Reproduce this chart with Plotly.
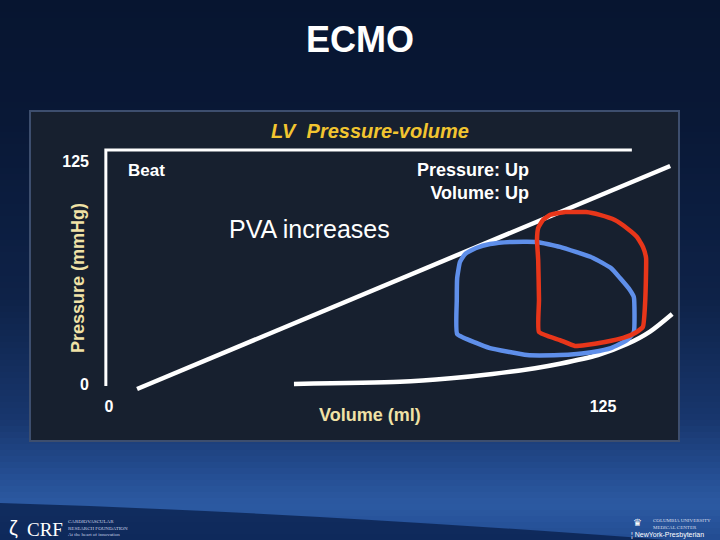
import plotly.graph_objects as go

# ---------------- data (volume in ml, pressure in mmHg) ----------------
x_tick_vals = [0, 125]
y_tick_vals = [0, 125]

espvr_volume = [7.1, 142.0]
espvr_pressure = [-2.8, 122.6]

edpvr_volume = [46.8, 73.6, 86.5, 97.0, 107.8, 114.1, 123.7, 131.1, 136.9, 142.5]
edpvr_pressure = [0.0, 1.2, 3.2, 5.6, 8.9, 11.4, 16.3, 22.5, 29.5, 39.4]

baseline_volume = [88.1, 88.0, 88.1, 88.8, 90.1, 92.9, 96.4, 101.5, 108.3, 114.1,
                   122.5, 127.0, 129.3, 131.8, 132.8, 132.8, 131.1, 127.0, 122.5,
                   118.4, 114.1, 105.8, 96.4, 92.9, 88.1]
baseline_pressure = [28.1, 47.2, 59.6, 68.6, 73.1, 76.5, 78.7, 79.9, 79.9, 77.1,
                     70.9, 65.2, 59.6, 52.9, 48.9, 29.2, 24.7, 20.2, 18.0,
                     16.9, 16.3, 16.3, 20.2, 23.1, 28.1]

ecmo_volume = [108.8, 108.8, 108.6, 108.3, 108.6, 109.8, 111.6, 115.4, 120.7, 124.2,
               128.0, 131.3, 133.6, 135.1, 135.9, 135.9, 135.6, 135.1, 133.1, 130.1,
               125.5, 120.7, 117.9, 114.1, 108.8]
ecmo_pressure = [29.2, 47.2, 69.7, 81.0, 87.7, 92.2, 95.1, 96.7, 96.7, 95.1,
                 92.2, 87.2, 82.7, 77.1, 70.9, 64.1, 43.3, 32.1, 28.7, 25.9,
                 23.6, 21.9, 21.4, 24.7, 29.2]

frame_volume = [-0.8, -0.8, 132.3]
frame_pressure = [-1.1, 131.6, 131.6]

# ---------------- layout helpers ----------------
W, H = 720, 540
ML, MR, MT, MB = 100, 44, 145, 145
PW, PH = W - ML - MR, H - MT - MB


def px(x):
    return (x - ML) / PW


def py(y):
    return (H - MB - y) / PH


FONT = "Liberation Sans, Arial, sans-serif"

fig = go.Figure()

fig.add_trace(go.Scatter(x=frame_volume, y=frame_pressure, mode="lines",
                         line=dict(color="white", width=3), hoverinfo="skip"))
fig.add_trace(go.Scatter(x=espvr_volume, y=espvr_pressure, mode="lines",
                         line=dict(color="white", width=4.5), hoverinfo="skip"))
fig.add_trace(go.Scatter(x=edpvr_volume, y=edpvr_pressure, mode="lines",
                         line=dict(color="white", width=4.5, shape="spline", smoothing=0.8),
                         hoverinfo="skip"))
fig.add_trace(go.Scatter(x=baseline_volume, y=baseline_pressure, mode="lines",
                         line=dict(color="#5F8FEA", width=4.5, shape="spline", smoothing=0.4),
                         hoverinfo="skip"))
fig.add_trace(go.Scatter(x=ecmo_volume, y=ecmo_pressure, mode="lines",
                         line=dict(color="#E8361A", width=4.5, shape="spline", smoothing=0.4),
                         hoverinfo="skip"))

# ---------------- background gradient ----------------
stops = [(0, (7, 21, 48)), (120, (9, 24, 54)), (300, (14, 34, 72)), (420, (24, 55, 110)),
         (480, (38, 80, 150)), (505, (44, 90, 162)), (540, (34, 76, 146))]


def col_at(y):
    for (y0, c0), (y1, c1) in zip(stops[:-1], stops[1:]):
        if y0 <= y <= y1:
            t = (y - y0) / (y1 - y0)
            return "rgb(%d,%d,%d)" % tuple(round(a + (b - a) * t) for a, b in zip(c0, c1))
    return "rgb(%d,%d,%d)" % stops[-1][1]


shapes = []
step = 6
for y in range(0, H, step):
    shapes.append(dict(type="rect", xref="paper", yref="paper",
                       x0=px(0), x1=px(W), y0=py(y + step + 0.5), y1=py(y),
                       fillcolor=col_at(y + step / 2), line=dict(width=0), layer="below"))
# darker wave at bottom left
shapes.append(dict(type="path", xref="paper", yref="paper", layer="below",
                   path="M %f,%f Q %f,%f %f,%f L %f,%f Z" % (
                       px(0), py(503), px(300), py(512), px(680), py(541),
                       px(0), py(541)),
                   fillcolor="rgba(8,30,72,0.75)", line=dict(width=0)))
# panel
shapes.append(dict(type="rect", xref="paper", yref="paper", layer="below",
                   x0=px(30), x1=px(679), y0=py(441), y1=py(111),
                   fillcolor="#17202F", line=dict(color="#3D4E6E", width=2)))

annotations = [
    dict(text="<b>ECMO</b>", x=px(360), y=py(39), font=dict(size=36, color="white")),
    dict(text="<b><i>LV\u00a0 Pressure-volume</i></b>", x=px(370), y=py(131),
         font=dict(size=20, color="#F2C530")),
    dict(text="<b>Beat</b>", x=px(126), y=py(170), xanchor="left",
         font=dict(size=17, color="white")),
    dict(text="<b>Pressure: Up<br>Volume: Up</b>", x=px(531), y=py(181), xanchor="right",
         align="right", font=dict(size=18, color="white")),
    dict(text="PVA increases", x=px(309), y=py(229), font=dict(size=25, color="white")),
    dict(text="<b>Pressure (mmHg)</b>", x=px(78), y=py(278), textangle=-90,
         font=dict(size=18, color="#F0E2A6")),
    dict(text="<b>Volume (ml)</b>", x=px(370), y=py(415),
         font=dict(size=18, color="#F0E2A6")),
    # footer logos (approximate)
    dict(text="\u03b6", x=px(13), y=py(528), font=dict(size=20, color="white")),
    dict(text="CRF", x=px(45), y=py(529),
         font=dict(size=19, color="white", family="Liberation Serif, serif")),
    dict(text="CARDIOVASCULAR<br>RESEARCH FOUNDATION<br>At the heart of innovation",
         x=px(66), y=py(528), xanchor="left", align="left",
         font=dict(size=5, color="#C8D2E6", family="Liberation Serif, serif")),
    dict(text="\u265b", x=px(637), y=py(522), font=dict(size=10, color="white")),
    dict(text="COLUMBIA UNIVERSITY<br>MEDICAL CENTER", x=px(651), y=py(524),
         xanchor="left", align="left",
         font=dict(size=5, color="#D8DEEA", family="Liberation Serif, serif")),
    dict(text="\u00a6 NewYork-Presbyterian", x=px(629), y=py(534.5), xanchor="left",
         font=dict(size=7, color="white")),
]
for a in annotations:
    a.setdefault("xref", "paper")
    a.setdefault("yref", "paper")
    a.setdefault("showarrow", False)
    a.setdefault("xanchor", "center")
    a.setdefault("yanchor", "middle")

fig.update_layout(
    width=W, height=H,
    margin=dict(l=ML, r=MR, t=MT, b=MB),
    paper_bgcolor="#071530",
    plot_bgcolor="rgba(0,0,0,0)",
    showlegend=False,
    font=dict(family=FONT, color="white"),
    shapes=shapes,
    annotations=annotations,
    xaxis=dict(range=[-2.28, 143.47], showgrid=False, zeroline=False, showline=False,
               tickvals=x_tick_vals, ticktext=["<b>%d</b>" % v for v in x_tick_vals],
               tickfont=dict(size=16, color="white"), ticks="", ticklabelstandoff=0,
               fixedrange=True),
    yaxis=dict(range=[-6.19, 134.42], showgrid=False, zeroline=False, showline=False,
               tickvals=y_tick_vals, ticktext=["<b>%d</b>" % v for v in y_tick_vals],
               tickfont=dict(size=16, color="white"), ticks="", ticklabelstandoff=10,
               fixedrange=True),
)

fig.write_html(
    "out.html",
    config={"displayModeBar": False},
    post_script="document.body.style.margin='0px';document.body.style.overflow='hidden';",
)
